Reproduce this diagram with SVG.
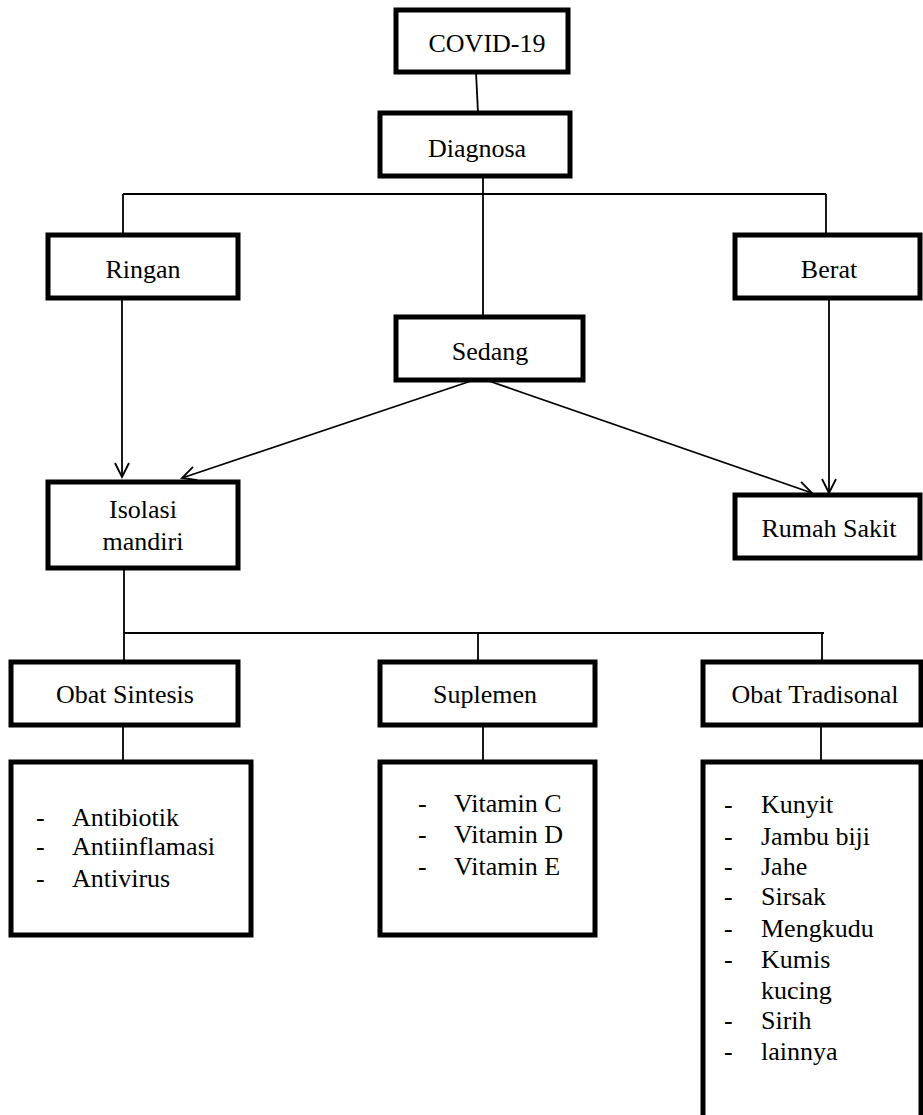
<svg xmlns="http://www.w3.org/2000/svg" width="923" height="1115" viewBox="0 0 923 1115">
<defs>
<style>
.box{fill:#fff;stroke:#000;stroke-width:5}
.ln{fill:none;stroke:#000;stroke-width:1.8}
.t{font-family:"Liberation Serif","Times New Roman",serif;font-size:26px;fill:#000}
.c{text-anchor:middle}
</style>
<marker id="arr" markerUnits="userSpaceOnUse" markerWidth="20" markerHeight="20" viewBox="0 0 20 20" refX="15" refY="8" orient="auto">
<path d="M1,1 L15,8 L1,15" fill="none" stroke="#000" stroke-width="1.8"/>
</marker>
</defs>
<rect width="923" height="1115" fill="#fff"/>
<g id="connectors">
<line class="ln" x1="476" y1="72" x2="478" y2="113"/>
<line class="ln" x1="483" y1="176" x2="483" y2="317"/>
<line class="ln" x1="123" y1="194" x2="826" y2="194"/>
<line class="ln" x1="123" y1="194" x2="123" y2="235"/>
<line class="ln" x1="826" y1="194" x2="826" y2="235"/>
<line class="ln" x1="122" y1="298" x2="122" y2="477" marker-end="url(#arr)"/>
<line class="ln" x1="829" y1="298" x2="829" y2="493" marker-end="url(#arr)"/>
<line class="ln" x1="474" y1="380" x2="182" y2="478" marker-end="url(#arr)"/>
<line class="ln" x1="486" y1="380" x2="812" y2="493" marker-end="url(#arr)"/>
<line class="ln" x1="124" y1="568" x2="124" y2="662"/>
<line class="ln" x1="124" y1="633" x2="824" y2="633"/>
<line class="ln" x1="478" y1="633" x2="478" y2="662"/>
<line class="ln" x1="822" y1="633" x2="822" y2="662"/>
<line class="ln" x1="123" y1="725" x2="123" y2="762"/>
<line class="ln" x1="483" y1="725" x2="483" y2="762"/>
<line class="ln" x1="821" y1="725" x2="821" y2="762"/>
</g>
<g id="covid"><rect class="box" x="396" y="10" width="172" height="62"/><text class="t c" x="487" y="52">COVID-19</text></g>
<g id="diagnosa"><rect class="box" x="380" y="113" width="190" height="63"/><text class="t c" x="477" y="157">Diagnosa</text></g>
<g id="ringan"><rect class="box" x="48" y="235" width="190" height="63"/><text class="t c" x="143" y="278">Ringan</text></g>
<g id="berat"><rect class="box" x="735" y="235" width="185" height="63"/><text class="t c" x="829" y="278">Berat</text></g>
<g id="sedang"><rect class="box" x="396" y="317" width="187" height="63"/><text class="t c" x="490" y="360">Sedang</text></g>
<g id="isolasi"><rect class="box" x="48" y="482" width="190" height="86"/><text class="t c" x="143" y="518">Isolasi</text><text class="t c" x="143" y="550">mandiri</text></g>
<g id="rumahsakit"><rect class="box" x="735" y="495" width="185" height="63"/><text class="t c" x="829" y="537">Rumah Sakit</text></g>
<g id="obatsintesis"><rect class="box" x="11" y="662" width="227" height="63"/><text class="t c" x="125" y="703">Obat Sintesis</text></g>
<g id="suplemen"><rect class="box" x="380" y="662" width="215" height="63"/><text class="t c" x="485" y="703">Suplemen</text></g>
<g id="obattradisional"><rect class="box" x="703" y="662" width="218" height="63"/><text class="t c" x="815" y="703">Obat Tradisonal</text></g>
<g id="list-sintesis"><rect class="box" x="11" y="762" width="240" height="173"/>
<text class="t" x="36" y="826">-</text><text class="t" x="72" y="826">Antibiotik</text>
<text class="t" x="36" y="855">-</text><text class="t" x="72" y="855">Antiinflamasi</text>
<text class="t" x="36" y="887">-</text><text class="t" x="72" y="887">Antivirus</text>
</g>
<g id="list-suplemen"><rect class="box" x="380" y="762" width="215" height="173"/>
<text class="t" x="418" y="812">-</text><text class="t" x="454" y="812">Vitamin C</text>
<text class="t" x="418" y="843">-</text><text class="t" x="454" y="843">Vitamin D</text>
<text class="t" x="418" y="875">-</text><text class="t" x="454" y="875">Vitamin E</text>
</g>
<g id="list-tradisional"><rect class="box" x="703" y="762" width="218" height="370"/>
<text class="t" x="724" y="813">-</text><text class="t" x="761" y="813">Kunyit</text>
<text class="t" x="724" y="845">-</text><text class="t" x="761" y="845">Jambu biji</text>
<text class="t" x="724" y="875">-</text><text class="t" x="761" y="875">Jahe</text>
<text class="t" x="724" y="905">-</text><text class="t" x="761" y="905">Sirsak</text>
<text class="t" x="724" y="937">-</text><text class="t" x="761" y="937">Mengkudu</text>
<text class="t" x="724" y="968">-</text><text class="t" x="761" y="968">Kumis</text>
<text class="t" x="761" y="999">kucing</text>
<text class="t" x="724" y="1029">-</text><text class="t" x="761" y="1029">Sirih</text>
<text class="t" x="724" y="1060">-</text><text class="t" x="761" y="1060">lainnya</text>
</g>
</svg>
